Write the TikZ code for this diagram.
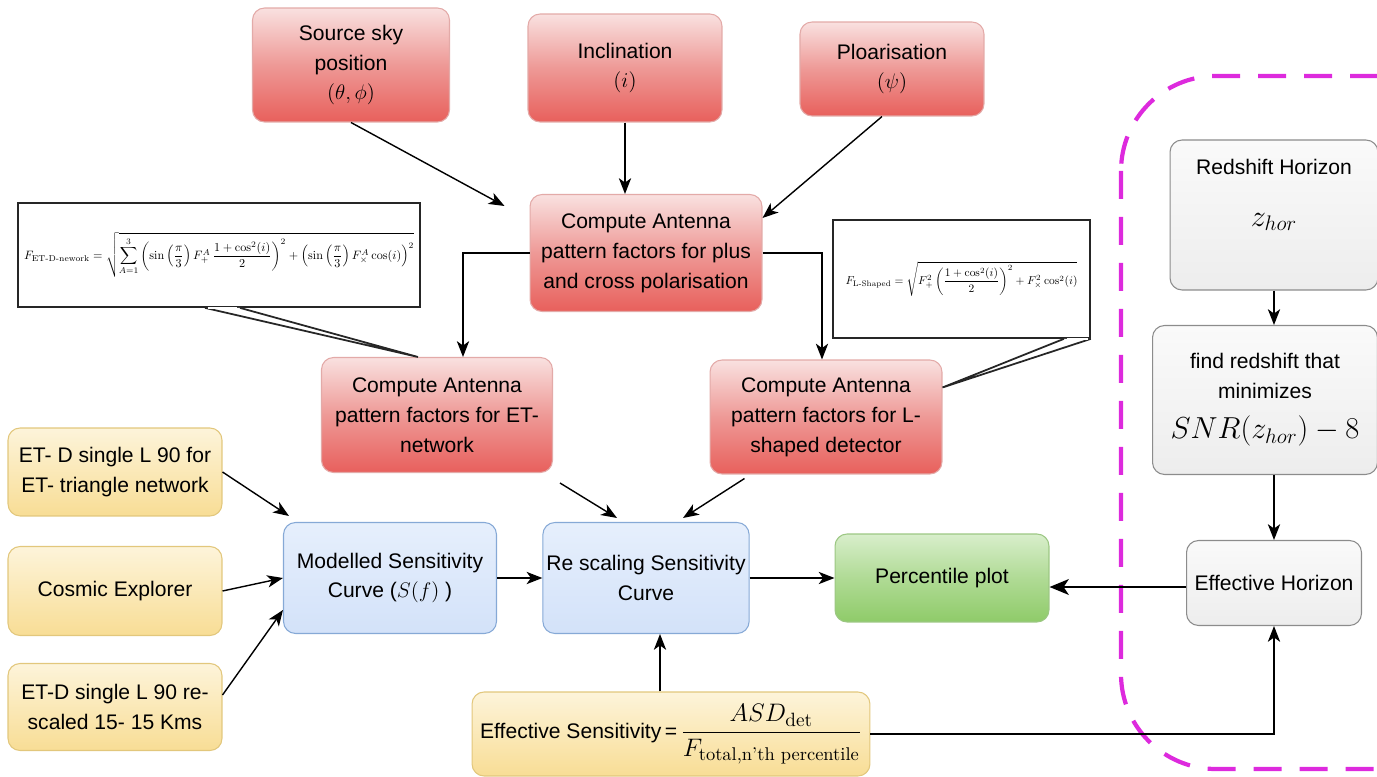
\documentclass[tikz,border=0pt]{standalone}
\usepackage[no-math]{fontspec}
\setmainfont{Liberation Sans}
\usepackage{amsmath}
\usepackage{graphicx}
\usetikzlibrary{arrows.meta,calc}

\newcommand{\lmtext}[1]{\text{\fontfamily{lmr}\selectfont #1}}

\definecolor{redTop}{HTML}{F9E1E0}
\definecolor{redMid}{HTML}{EE9996}
\definecolor{redBot}{HTML}{E8605C}
\definecolor{redEdge}{HTML}{E3AAA8}
\definecolor{yelTop}{HTML}{FDF4DA}
\definecolor{yelBot}{HTML}{F8DD95}
\definecolor{yelEdge}{HTML}{E2C77C}
\definecolor{bluTop}{HTML}{E6EFFC}
\definecolor{bluBot}{HTML}{D3E2F9}
\definecolor{bluEdge}{HTML}{86A9D6}
\definecolor{grnTop}{HTML}{D8EECB}
\definecolor{grnBot}{HTML}{8FCB69}
\definecolor{grnEdge}{HTML}{9CC783}
\definecolor{gryTop}{HTML}{FAFAFA}
\definecolor{gryBot}{HTML}{EDEDED}
\definecolor{gryEdge}{HTML}{8C8C8C}
\definecolor{zoneMag}{HTML}{DD2ADD}

\tikzset{
  box/.style={rounded corners=0.24cm, align=center, line width=0.6pt,
    font=\fontsize{12}{17}\selectfont, inner sep=2pt},
  redbox/.style={box, draw=redEdge, top color=redTop, bottom color=redBot, middle color=redMid},
  yelbox/.style={box, draw=yelEdge, top color=yelTop, bottom color=yelBot},
  blubox/.style={box, draw=bluEdge, top color=bluTop, bottom color=bluBot},
  grnbox/.style={box, draw=grnEdge, top color=grnTop, bottom color=grnBot, middle color=grnBot!55!grnTop},
  grybox/.style={box, draw=gryEdge, top color=gryTop, bottom color=gryBot},
  callbox/.style={draw=black!85, line width=1pt, fill=white, inner sep=0pt},
  callline/.style={draw=black!85, line width=1pt, line join=miter},
  arr/.style={-{Stealth[length=9pt,width=7pt,inset=2.5pt]}, line width=0.8pt},
  bigarr/.style={-{Stealth[length=11pt,width=9pt,inset=3pt]}, line width=1.3pt},
  hzone/.style={draw=zoneMag, line width=2.4pt, dash pattern=on 0.56cm off 0.36cm, rounded corners=1.9cm}
}

\begin{document}
\begin{tikzpicture}[x=0.02cm,y=-0.02cm]
  \useasboundingbox (0,0) rectangle (1377,777);

  % horizon zone
  \begin{scope}
    \clip (0,0) rectangle (1377,777);
    \draw[hzone] (1121,76) rectangle (1470,769);
  \end{scope}

  % inputs
  \node[redbox, minimum width=3.94cm, minimum height=2.28cm] (sky) at (351,65) {Source sky\\position\\$(\theta, \phi)$};
  \node[redbox, minimum width=3.88cm, minimum height=2.16cm] (inc) at (625,68) {Inclination\\$(i)$};
  \node[redbox, minimum width=3.68cm, minimum height=1.88cm] (pol) at (892,69) {Ploarisation\\$(\psi)$};

  \node[redbox, minimum width=4.64cm, minimum height=2.34cm] (cmp) at (646,253) {Compute Antenna\\pattern factors for plus\\and cross polarisation};
  \node[redbox, minimum width=4.62cm, minimum height=2.30cm] (etnet) at (437,415) {Compute Antenna\\pattern factors for ET-\\network};
  \node[redbox, minimum width=4.64cm, minimum height=2.28cm] (lnet) at (826,417) {Compute Antenna\\pattern factors for L-\\shaped detector};

  % formula callouts
  \node[callbox, minimum width=8.04cm, minimum height=2.08cm] (etcall) at (219,255)
    {\raisebox{0.25cm}{\resizebox{7.8cm}{!}{$\displaystyle F_{\lmtext{ET-D-nework}} = \sqrt{\sum_{A=1}^{3} \left(\sin\left(\frac{\pi}{3}\right) F_{+}^{A}\, \frac{1+\cos^2(i)}{2}\right)^2 + \left(\sin\left(\frac{\pi}{3}\right) F_{\times}^{A} \cos(i)\right)^2}$}}};
  \draw[callline, fill=white] ([xshift=-0.28cm]etcall.south) -- ([xshift=-0.38cm]etnet.north) -- ([xshift=0.42cm]etcall.south);
  \draw[white, line width=1.4pt] ([xshift=-0.22cm]etcall.south) -- ([xshift=0.36cm]etcall.south);

  \node[callbox, minimum width=5.14cm, minimum height=2.36cm] (lcall) at (961.5,279)
    {\resizebox{4.64cm}{!}{$\displaystyle F_{\lmtext{L-Shaped}} = \sqrt{F_{+}^{2} \left(\frac{1+\cos^2(i)}{2}\right)^2 + F_{\times}^{2} \cos^2(i)}$}};
  \draw[callline, fill=white] ([xshift=-0.54cm]lcall.south east) -- ([yshift=-0.56cm]lnet.north east) -- (lcall.south east);
  \draw[white, line width=1.4pt] ([xshift=-0.48cm]lcall.south east) -- ([xshift=-0.06cm]lcall.south east);

  % detector curves
  \node[yelbox, minimum width=4.28cm, minimum height=1.76cm] (ettri) at (115,472) {ET- D single L 90 for\\ET- triangle network};
  \node[yelbox, minimum width=4.28cm, minimum height=1.78cm] (ce) at (115,591) {Cosmic Explorer};
  \node[yelbox, minimum width=4.28cm, minimum height=1.74cm] (etres) at (115,707) {ET-D single L 90 re-\\scaled 15- 15 Kms};

  \node[blubox, minimum width=4.26cm, minimum height=2.22cm] (mod) at (390,578) {Modelled Sensitivity\\Curve ($S(f)$ )};
  \node[blubox, minimum width=4.02cm, minimum height=2.22cm] (rsc) at (646,578) {Re scaling Sensitivity\\Curve};
  \node[grnbox, minimum width=4.28cm, minimum height=1.76cm] (pct) at (942,578) {Percentile plot};

  \node[yelbox, minimum width=7.96cm, minimum height=1.68cm, inner xsep=0pt] (es) at (671,734)
    {Effective Sensitivity\,=\,{\fontsize{15}{17}\selectfont$\dfrac{ASD_{\mathrm{det}}}{F_{\lmtext{total,n'th percentile}}}$}};

  % horizon steps
  \node[grybox, minimum width=4.16cm, minimum height=3.0cm] (zh) at (1274,215)
    {Redshift Horizon\\[0.45cm]{\fontsize{17}{19}\selectfont$z_{hor}$}\\[0.3cm]};
  \node[grybox, minimum width=4.5cm, minimum height=2.98cm] (fr) at (1265,400)
    {find redshift that\\minimizes\\[0.2cm]{\fontsize{17}{19}\selectfont$SNR(z_{hor}) - 8$}};
  \node[grybox, minimum width=3.5cm, minimum height=1.7cm] (eh) at (1274,583) {Effective Horizon};

  % connectors
  \draw[arr] (sky.south) -- ([xshift=-0.5cm,yshift=-0.24cm]cmp.north west);
  \draw[arr] (inc.south) -- (inc.south |- cmp.north);
  \draw[arr] ([xshift=-0.2cm]pol.south) -- ([yshift=0.7cm]cmp.east);
  \draw[arr] (cmp.west) -| ([xshift=0.52cm]etnet.north);
  \draw[arr] (cmp.east) -| ([xshift=-0.08cm]lnet.north);

  \draw[arr] ([shift={(0.14cm,-0.2cm)}]etnet.south east) -- ([xshift=-0.58cm,yshift=0.08cm]rsc.north);
  \draw[arr] ([shift={(0.7cm,-0.08cm)}]lnet.south west) -- ([xshift=0.74cm,yshift=0.08cm]rsc.north);

  \draw[arr] (ettri.east) -- ([shift={(0.12cm,0.12cm)}]mod.north west);
  \draw[arr] (ce.east) -- (mod.west);
  \draw[arr] ([yshift=0.24cm]etres.east) -- ([yshift=-0.64cm]mod.west);

  \draw[arr] (mod.east) -- (rsc.west);
  \draw[arr] (rsc.east) -- (pct.west);
  \draw[bigarr] ([yshift=-0.08cm]eh.west) -- ([yshift=-0.08cm]eh.west -| pct.east);

  \draw[arr] ([xshift=0.28cm]rsc.south |- es.north) -- ([xshift=0.28cm]rsc.south);
  \draw[arr] (es.east) -| (eh.south);

  \draw[arr] (zh.south) -- (zh.south |- fr.north);
  \draw[arr] (fr.south -| eh.north) -- (eh.north);
\end{tikzpicture}
\end{document}
